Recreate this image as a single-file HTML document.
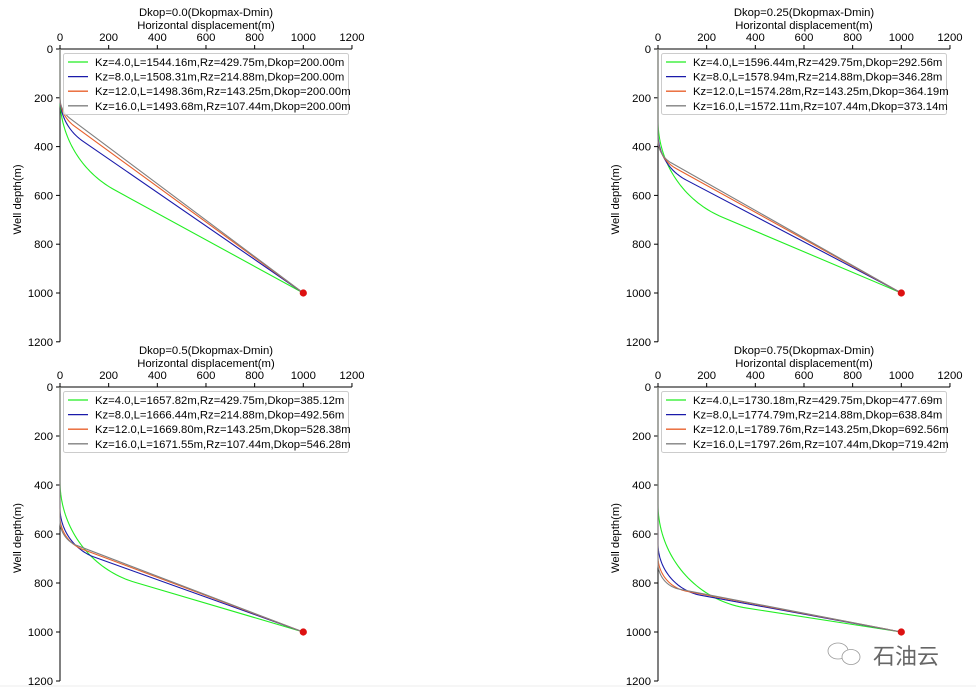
<!DOCTYPE html>
<html><head><meta charset="utf-8"><style>
html,body{margin:0;padding:0;background:#fff;width:976px;height:697px;overflow:hidden}
svg text{font-family:"Liberation Sans","DejaVu Sans",sans-serif}
</style></head><body>
<svg id="chart" width="976" height="697" xmlns="http://www.w3.org/2000/svg"></svg>
<script>
const panelTitles=["Dkop=0.0(Dkopmax-Dmin)","Dkop=0.25(Dkopmax-Dmin)","Dkop=0.5(Dkopmax-Dmin)","Dkop=0.75(Dkopmax-Dmin)"];
const kzValues=[4.0,8.0,12.0,16.0];
const rzValues=[429.75,214.88,143.25,107.44];
const lengths=[[1544.16,1508.31,1498.36,1493.68],[1596.44,1578.94,1574.28,1572.11],[1657.82,1666.44,1669.80,1671.55],[1730.18,1774.79,1789.76,1797.26]];
const dkops=[[200.00,200.00,200.00,200.00],[292.56,346.28,364.19,373.14],[385.12,492.56,528.38,546.28],[477.69,638.84,692.56,719.42]];
const target=[1000,1000];
const xTicks=[0,200,400,600,800,1000,1200];
const yTicks=[0,200,400,600,800,1000,1200];
const colors=["#22ee22","#1a1aaa","#e8602c","#808080"];
const NS="http://www.w3.org/2000/svg";
const svg=document.getElementById('chart');
function mk(tag,attrs,parent){const e=document.createElementNS(NS,tag);for(const k in attrs)e.setAttribute(k,attrs[k]);(parent||svg).appendChild(e);return e;}
const origins=[[60,49,244],[658,49,244],[60,387,245],[658,387,245]];
const FS=11.3;
panelTitles.forEach((title,p)=>{
  const [x0,y0,sy]=origins[p];
  const sx=243.3/1000, syy=sy/1000;
  const X=v=>x0+v*sx, Y=v=>y0+v*syy;
  const g=mk('g',{});
  
  
  const cx=X(600);
  let t=mk('text',{x:cx,y:y0-33,'font-size':FS,'text-anchor':'middle'},g);t.textContent=title;
  
  t=mk('text',{x:cx,y:y0-20,'font-size':FS,'text-anchor':'middle'},g);t.textContent='Horizontal displacement(m)';
  
  t=mk('text',{x:0,y:0,'font-size':FS,'text-anchor':'middle',transform:`translate(${x0-39},${Y(600)+4}) rotate(-90)`},g);t.textContent='Well depth(m)';
  
  const sp1=mk('line',{x1:x0,y1:y0,x2:x0,y2:Y(1200),stroke:'#000','stroke-width':1},g);
  
  const sp2=mk('line',{x1:x0,y1:y0,x2:X(1200),y2:y0,stroke:'#000','stroke-width':1},g);
  
  xTicks.forEach(v=>{
    mk('line',{x1:X(v),y1:y0,x2:X(v),y2:y0-4,stroke:'#000'},g);
    const tt=mk('text',{x:X(v),y:y0-8,'font-size':FS,'text-anchor':'middle'},g);tt.textContent=v;
    
  });
  yTicks.forEach(v=>{
    mk('line',{x1:x0,y1:Y(v),x2:x0-4,y2:Y(v),stroke:'#000'},g);
    const tt=mk('text',{x:x0-7,y:Y(v)+4,'font-size':FS,'text-anchor':'end'},g);tt.textContent=v;
    
  });
  kzValues.forEach((kz,i)=>{
    const R=rzValues[i], D=dkops[p][i];
    const f=th=>{const px=R*(1-Math.cos(th)),py=D+R*Math.sin(th);return (target[0]-px)*Math.cos(th)-(target[1]-py)*Math.sin(th);};
    let a=0,b=Math.PI/2;
    for(let k=0;k<60;k++){const m=(a+b)/2;if(f(a)*f(m)<=0)b=m;else a=m;}
    const th=(a+b)/2;
    let d=`M${X(0)},${Y(0)} L${X(0)},${Y(D)}`;
    for(let k=1;k<=40;k++){const s=th*k/40;d+=` L${X(R*(1-Math.cos(s)))},${Y(D+R*Math.sin(s))}`;}
    d+=` L${X(target[0])},${Y(target[1])}`;
    const path=mk('path',{d,fill:'none',stroke:colors[i],'stroke-width':1.1},g);
    
    
  });
  const dot=mk('circle',{cx:X(target[0]),cy:Y(target[1]),r:3.6,fill:'#dd1111'},g);
  
  const lg=mk('g',{},g);
  
  mk('rect',{x:x0+3.5,y:y0+4.5,width:285,height:61,rx:2,fill:'#fff','fill-opacity':0.85,stroke:'#ccc'},lg);
  kzValues.forEach((kz,i)=>{
    const yy=y0+13+i*14.6;
    mk('line',{x1:x0+8,y1:yy,x2:x0+28,y2:yy,stroke:colors[i],'stroke-width':1.3},lg);
    const lt=mk('text',{x:x0+35,y:yy+4,'font-size':FS},lg);
    lt.textContent=`Kz=${kz.toFixed(1)},L=${lengths[p][i].toFixed(2)}m,Rz=${rzValues[i].toFixed(2)}m,Dkop=${dkops[p][i].toFixed(2)}m`;
    
  });
});
const wm=mk('g',{});

mk('ellipse',{cx:838,cy:651,rx:10,ry:8,fill:'none',stroke:'#999','stroke-width':0.8},wm);
mk('ellipse',{cx:851,cy:657,rx:9,ry:7.5,fill:'#fff',stroke:'#999','stroke-width':0.8},wm);
const wt=mk('text',{x:873,y:664,'font-size':22,fill:'#666','font-family':'"Noto Sans CJK SC",sans-serif'},wm);
wt.textContent='石油云';
mk('line',{x1:0,y1:686,x2:976,y2:686,stroke:'#eee'},wm);
</script>
</body></html>
